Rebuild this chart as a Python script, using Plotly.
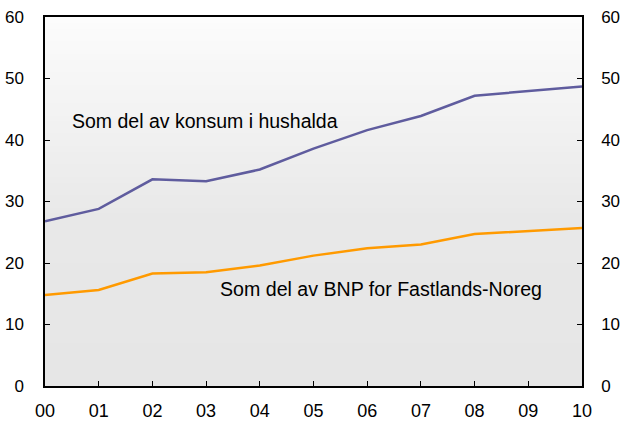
import plotly.graph_objects as go

years = ["00", "01", "02", "03", "04", "05", "06", "07", "08", "09", "10"]
x_pos = list(range(len(years)))
konsum = [26.8, 28.8, 33.6, 33.3, 35.2, 38.6, 41.6, 43.9, 47.2, 48.0, 48.7]
bnp = [14.8, 15.6, 18.3, 18.5, 19.6, 21.2, 22.4, 23.0, 24.7, 25.2, 25.7]
label_konsum = "Som del av konsum i hushalda"
label_bnp = "Som del av BNP for Fastlands-Noreg"
y_ticks = [0, 10, 20, 30, 40, 50, 60]

PURPLE = "#5f5c9e"
ORANGE = "#ff9a00"
FONT = "Liberation Sans, Arial, sans-serif"

fig = go.Figure()
fig.add_trace(go.Scatter(x=x_pos, y=konsum, mode="lines",
                         line=dict(color=PURPLE, width=2.5), hoverinfo="skip", showlegend=False))
fig.add_trace(go.Scatter(x=x_pos, y=bnp, mode="lines",
                         line=dict(color=ORANGE, width=2.5), hoverinfo="skip", showlegend=False))
fig.add_trace(go.Scatter(x=[x_pos[0]], y=[y_ticks[0]], yaxis="y2", mode="markers",
                         marker=dict(opacity=0), hoverinfo="skip", showlegend=False))

# gradient background
shapes = []
n = 60
def lerp(a, b, t):
    return int(round(a + (b - a) * t))
for i in range(n):
    y0 = i / n
    y1 = (i + 1) / n
    mid = 1 - (y0 + y1) / 2  # distance from top
    if mid < 0.55:
        t = mid / 0.55
        c = lerp(252, 232, t)
    else:
        t = (mid - 0.55) / 0.45
        c = lerp(232, 230, t)
    col = f"rgb({c},{c},{c})"
    shapes.append(dict(type="rect", xref="paper", yref="paper", x0=0, x1=1, y0=y0, y1=y1 + 0.002,
                       fillcolor=col, line=dict(width=0), layer="below"))

fig.update_layout(
    width=622, height=423,
    margin=dict(l=45, r=40, t=17, b=37, autoexpand=False),
    paper_bgcolor="white", plot_bgcolor="white",
    shapes=shapes,
    font=dict(family=FONT, size=17, color="black"),
    xaxis=dict(range=[0, 10], tickvals=x_pos, ticktext=years, ticks="inside", ticklen=5,
               tickcolor="black", showline=True, linecolor="black", linewidth=1.5, mirror=True,
               showgrid=False, zeroline=False, ticklabelstandoff=8, automargin=False,
               ticklabeloverflow="allow", tickfont=dict(family=FONT, size=18)),
    yaxis=dict(range=[0, 60], tickvals=y_ticks, ticks="inside", ticklen=5, tickcolor="black",
               showline=True, linecolor="black", linewidth=1.5, showgrid=False, zeroline=False,
               ticklabelstandoff=16, automargin=False, ticklabeloverflow="allow",
               tickfont=dict(family=FONT, size=17)),
    yaxis2=dict(range=[0, 60], tickvals=y_ticks, overlaying="y", side="right", ticks="inside",
                ticklen=5, tickcolor="black", showline=True, linecolor="black", linewidth=1.5,
                showgrid=False, zeroline=False, ticklabelstandoff=14, automargin=False,
                ticklabeloverflow="allow", tickfont=dict(family=FONT, size=17)),
    annotations=[
        dict(x=0.47, y=43.1, xref="x", yref="y", text=label_konsum, showarrow=False,
             xanchor="left", yanchor="middle", font=dict(family=FONT, size=19.5, color="black")),
        dict(x=3.22, y=15.8, xref="x", yref="y", text=label_bnp, showarrow=False,
             xanchor="left", yanchor="middle", font=dict(family=FONT, size=19.6, color="black")),
    ],
)

# remove the page's default body margin so the figure fills the window exactly
fig.write_html("out.html", config={"displayModeBar": False},
               post_script="document.body.style.margin='0px';")
